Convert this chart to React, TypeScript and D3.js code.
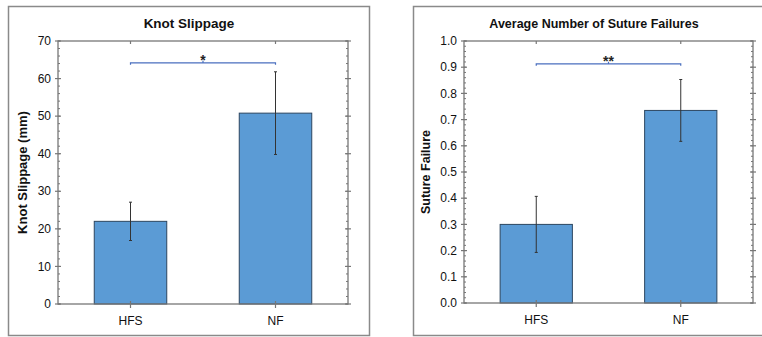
import React, { useEffect, useRef } from 'react';
import * as d3 from 'd3';

const groups = ['HFS', 'NF'];

const slipMeans = [22, 50.8];
const slipErrors = [5.1, 11];
const slipTicks = [0, 10, 20, 30, 40, 50, 60, 70];

const failMeans = [0.3, 0.735];
const failErrors = [0.107, 0.118];
const failTicks = [0, 0.1, 0.2, 0.3, 0.4, 0.5, 0.6, 0.7, 0.8, 0.9, 1.0];

const W = 762;
const H = 337;
const FONT = '"Liberation Sans", Arial, sans-serif';

interface PanelOpts {
  frame: [number, number, number, number];
  plot: [number, number, number, number];
  title: string;
  titleX: number;
  titleSize: number;
  yLabel: string;
  yLabelSize: number;
  yLabelX: number;
  means: number[];
  errors: number[];
  ticks: number[];
  yMax: number;
  minorStep: number;
  fmt: (v: number) => string;
  bracketAt: number;
  stars: string;
}

function drawPanel(svg: d3.Selection<SVGSVGElement, unknown, null, undefined>, o: PanelOpts) {
  const [fx, fy, fw, fh] = o.frame;
  const [left, top, right, bottom] = o.plot;
  const g = svg.append('g');

  g.append('rect')
    .attr('x', fx).attr('y', fy).attr('width', fw).attr('height', fh)
    .attr('fill', 'white').attr('stroke', '#8a8a8a').attr('stroke-width', 1.5);

  const x = d3.scaleBand().domain(groups).range([left, right]).paddingInner(0.5).paddingOuter(0.25);
  const y = d3.scaleLinear().domain([0, o.yMax]).range([bottom, top]);

  // title
  g.append('text')
    .attr('x', o.titleX).attr('y', 28)
    .attr('text-anchor', 'middle')
    .style('font-family', FONT).style('font-weight', 'bold').style('font-size', `${o.titleSize}px`)
    .attr('fill', '#111')
    .text(o.title);

  // y label
  g.append('text')
    .attr('transform', `translate(${o.yLabelX},${(top + bottom) / 2}) rotate(-90)`)
    .attr('text-anchor', 'middle').attr('dy', '0.35em')
    .style('font-family', FONT).style('font-weight', 'bold').style('font-size', `${o.yLabelSize}px`)
    .attr('fill', '#111')
    .text(o.yLabel);

  // bars
  g.selectAll('rect.bar')
    .data(groups)
    .enter()
    .append('rect')
    .attr('class', 'bar')
    .attr('x', d => x(d)!)
    .attr('width', x.bandwidth())
    .attr('y', (d, i) => y(o.means[i]))
    .attr('height', (d, i) => bottom - y(o.means[i]))
    .attr('fill', '#5b9bd5')
    .attr('stroke', '#2c4660')
    .attr('stroke-width', 1);

  // error bars
  const eb = g.selectAll('g.err').data(groups).enter().append('g');
  eb.append('line')
    .attr('x1', d => x(d)! + x.bandwidth() / 2)
    .attr('x2', d => x(d)! + x.bandwidth() / 2)
    .attr('y1', (d, i) => y(o.means[i] - o.errors[i]))
    .attr('y2', (d, i) => y(o.means[i] + o.errors[i]))
    .attr('stroke', '#333').attr('stroke-width', 1);
  [-1, 1].forEach(s => {
    eb.append('line')
      .attr('x1', d => x(d)! + x.bandwidth() / 2 - 1.5)
      .attr('x2', d => x(d)! + x.bandwidth() / 2 + 1.5)
      .attr('y1', (d, i) => y(o.means[i] + s * o.errors[i]))
      .attr('y2', (d, i) => y(o.means[i] + s * o.errors[i]))
      .attr('stroke', '#333').attr('stroke-width', 1);
  });

  // axes frame
  const axisColor = '#777';
  g.append('rect')
    .attr('x', left).attr('y', top).attr('width', right - left).attr('height', bottom - top)
    .attr('fill', 'none').attr('stroke', axisColor).attr('stroke-width', 1.3);

  // minor ticks
  const minors = d3.range(0, o.yMax + 1e-9, o.minorStep);
  g.selectAll('line.minL').data(minors).enter().append('line')
    .attr('x1', left).attr('x2', left + 2)
    .attr('y1', d => y(d)).attr('y2', d => y(d))
    .attr('stroke', axisColor).attr('stroke-width', 1);
  g.selectAll('line.minR').data(minors).enter().append('line')
    .attr('x1', right - 2).attr('x2', right)
    .attr('y1', d => y(d)).attr('y2', d => y(d))
    .attr('stroke', axisColor).attr('stroke-width', 1);

  // major ticks + labels
  g.selectAll('line.majL').data(o.ticks).enter().append('line')
    .attr('x1', left - 3).attr('x2', left + 3)
    .attr('y1', d => y(d)).attr('y2', d => y(d))
    .attr('stroke', axisColor).attr('stroke-width', 1.2);
  g.selectAll('line.majR').data(o.ticks).enter().append('line')
    .attr('x1', right - 3).attr('x2', right + 3)
    .attr('y1', d => y(d)).attr('y2', d => y(d))
    .attr('stroke', axisColor).attr('stroke-width', 1.2);
  g.selectAll('text.tick').data(o.ticks).enter().append('text')
    .attr('x', left - 7).attr('y', d => y(d)).attr('dy', '0.35em')
    .attr('text-anchor', 'end')
    .style('font-family', FONT).style('font-size', '12px')
    .attr('fill', '#111')
    .text(d => o.fmt(d));

  // x ticks
  g.selectAll('line.xt').data(groups).enter().append('line')
    .attr('x1', d => x(d)! + x.bandwidth() / 2).attr('x2', d => x(d)! + x.bandwidth() / 2)
    .attr('y1', bottom - 3).attr('y2', bottom + 4)
    .attr('stroke', axisColor).attr('stroke-width', 1.2);
  g.selectAll('line.xtt').data(groups).enter().append('line')
    .attr('x1', d => x(d)! + x.bandwidth() / 2).attr('x2', d => x(d)! + x.bandwidth() / 2)
    .attr('y1', top).attr('y2', top + 3)
    .attr('stroke', axisColor).attr('stroke-width', 1.2);
  g.selectAll('text.xl').data(groups).enter().append('text')
    .attr('x', d => x(d)! + x.bandwidth() / 2).attr('y', bottom + 21)
    .attr('text-anchor', 'middle')
    .style('font-family', FONT).style('font-size', '12px')
    .attr('fill', '#111')
    .text(d => d);

  // significance bracket
  const bx1 = x(groups[0])! + x.bandwidth() / 2;
  const bx2 = x(groups[1])! + x.bandwidth() / 2;
  const by = y(o.bracketAt);
  const mid = (bx1 + bx2) / 2;
  g.append('path')
    .attr('d', `M${bx1},${by + 2}V${by}H${bx2}V${by + 2}M${mid},${by}V${by - 2}`)
    .attr('fill', 'none').attr('stroke', '#4a6fbf').attr('stroke-width', 1.2);
  g.append('text')
    .attr('x', mid).attr('y', by + 2)
    .attr('text-anchor', 'middle')
    .style('font-family', FONT).style('font-weight', 'bold').style('font-size', '14px')
    .attr('fill', '#222')
    .text(o.stars);
}

export default function App() {
  const svgRef = useRef<SVGSVGElement>(null);

  useEffect(() => {
    if (!svgRef.current) return;
    const svg = d3.select(svgRef.current);
    svg.selectAll('*').remove();

    drawPanel(svg, {
      frame: [8.5, 6.5, 361, 329],
      plot: [58, 41, 348, 304],
      title: 'Knot Slippage',
      titleX: 189,
      titleSize: 13.5,
      yLabel: 'Knot Slippage (mm)',
      yLabelSize: 13,
      yLabelX: 22,
      means: slipMeans,
      errors: slipErrors,
      ticks: slipTicks,
      yMax: 70,
      minorStep: 2,
      fmt: d => String(d),
      bracketAt: 64.2,
      stars: '*',
    });

    drawPanel(svg, {
      frame: [413.5, 6.5, 360, 329],
      plot: [464, 41, 753, 303],
      title: 'Average Number of Suture Failures',
      titleX: 594,
      titleSize: 12.5,
      yLabel: 'Suture Failure',
      yLabelSize: 12.5,
      yLabelX: 426,
      means: failMeans,
      errors: failErrors,
      ticks: failTicks,
      yMax: 1.0,
      minorStep: 0.02,
      fmt: d => d.toFixed(1),
      bracketAt: 0.913,
      stars: '**',
    });
  }, []);

  return (
    <svg
      ref={svgRef}
      width={W}
      height={H}
      style={{ position: 'absolute', left: 0, top: 0, background: 'white' }}
    />
  );
}
